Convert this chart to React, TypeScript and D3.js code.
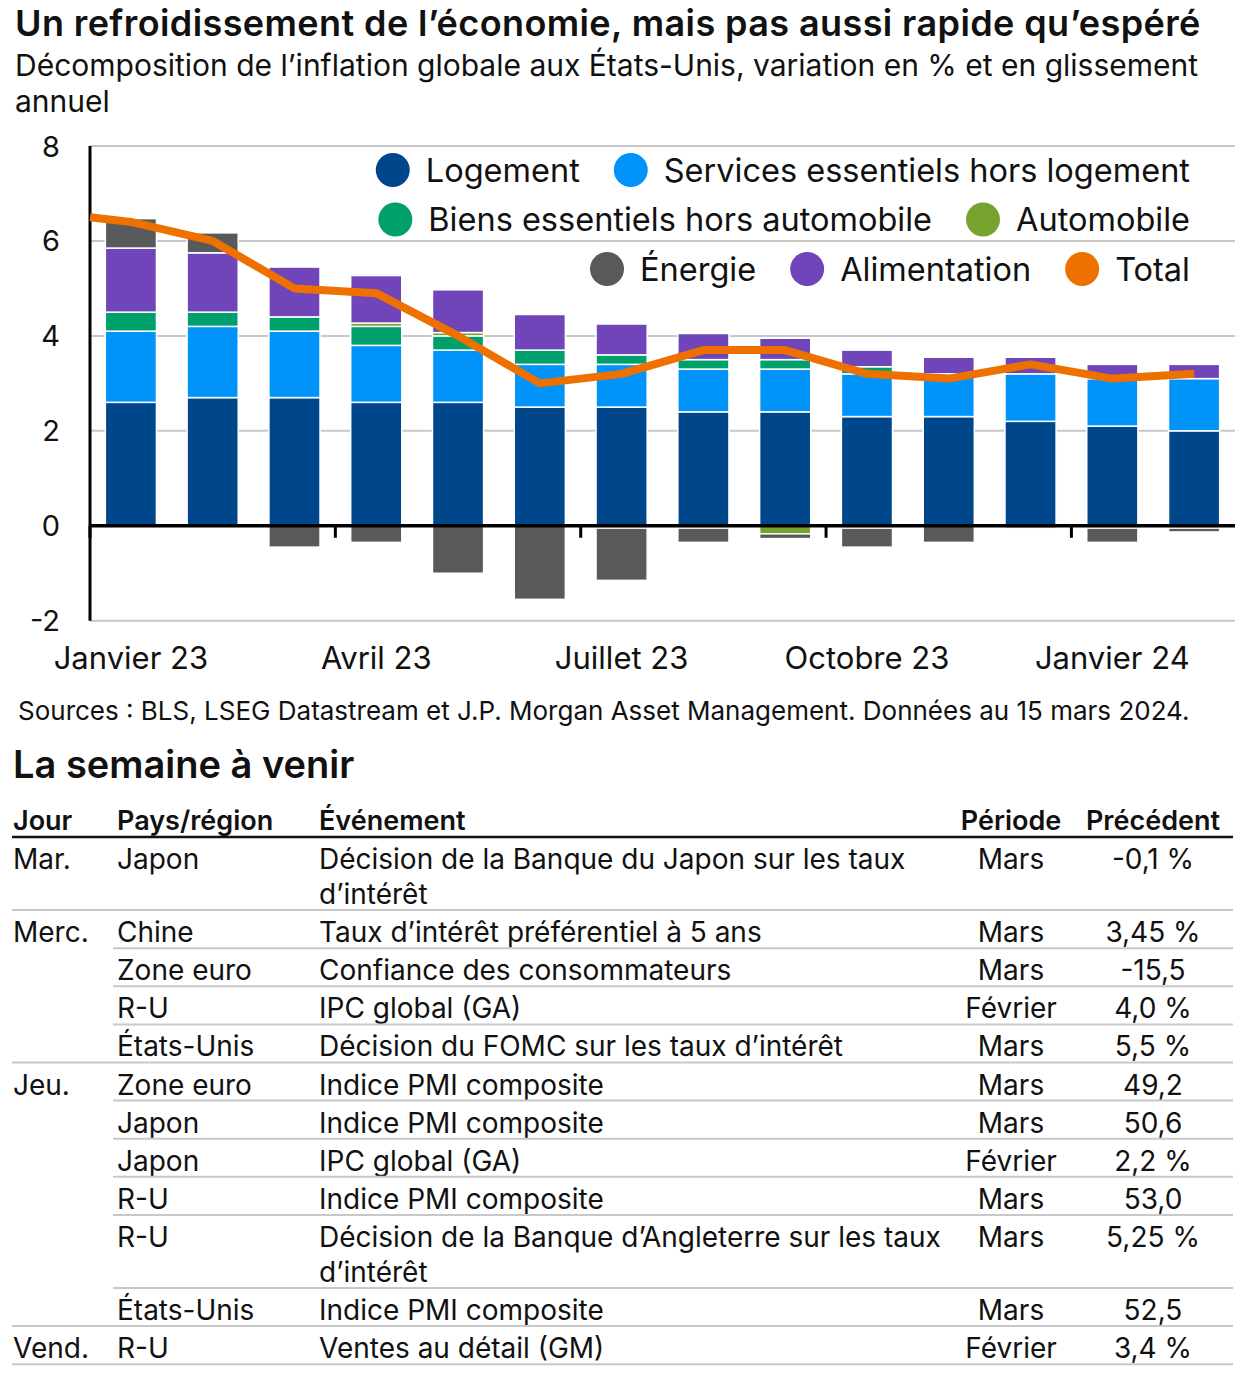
import { useMemo } from 'react';
import * as d3 from 'd3';

document.body.style.margin = '0';

const FONT = 'Inter, Roboto, "Liberation Sans", Arial, sans-serif';
const WIDTH = 1243;
const HEIGHT = 1395;

// Données du graphique (lecture du visuel)
const months = [
  'Jan 23', 'Fév 23', 'Mar 23', 'Avr 23', 'Mai 23', 'Juin 23', 'Juil 23',
  'Août 23', 'Sep 23', 'Oct 23', 'Nov 23', 'Déc 23', 'Jan 24', 'Fév 24',
];
const axisLabels = ['Janvier 23', 'Avril 23', 'Juillet 23', 'Octobre 23', 'Janvier 24'];
const axisLabelMonths = ['Jan 23', 'Avr 23', 'Juil 23', 'Oct 23', 'Jan 24'];
const yTicks = [-2, 0, 2, 4, 6, 8];

const logement = [2.6, 2.7, 2.7, 2.6, 2.6, 2.5, 2.5, 2.4, 2.4, 2.3, 2.3, 2.2, 2.1, 2.0];
const services = [1.5, 1.5, 1.4, 1.2, 1.1, 0.9, 0.9, 0.9, 0.9, 0.9, 0.9, 1.0, 1.0, 1.1];
const biens = [0.4, 0.3, 0.3, 0.4, 0.3, 0.3, 0.2, 0.2, 0.2, 0.15, 0, 0, 0, -0.05];
const automobile = [-0.03, -0.03, 0, 0.07, 0.07, 0, -0.05, -0.05, -0.17, -0.05, 0, 0, -0.05, 0];
const alimentation = [1.35, 1.25, 1.05, 1.0, 0.9, 0.75, 0.65, 0.55, 0.45, 0.35, 0.35, 0.35, 0.3, 0.3];
const energie = [0.62, 0.42, -0.45, -0.35, -1.0, -1.55, -1.1, -0.3, -0.1, -0.4, -0.35, -0.05, -0.3, -0.08];
const total = [6.4, 6.0, 5.0, 4.9, 4.0, 3.0, 3.2, 3.7, 3.7, 3.2, 3.1, 3.4, 3.1, 3.2];
const totalDec22 = 6.5;

const series = [
  { key: 'logement', label: 'Logement', color: '#00468b', values: logement },
  { key: 'services', label: 'Services essentiels hors logement', color: '#0094fb', values: services },
  { key: 'biens', label: 'Biens essentiels hors automobile', color: '#00a06c', values: biens },
  { key: 'auto', label: 'Automobile', color: '#78a22f', values: automobile },
  { key: 'alim', label: 'Alimentation', color: '#6f45b9', values: alimentation },
  { key: 'energie', label: 'Énergie', color: '#58595b', values: energie },
];
const TOTAL_COLOR = '#ee7100';

const legendRows = [
  ['logement', 'services'],
  ['biens', 'auto'],
  ['energie', 'alim', 'total'],
];

// Tableau « La semaine à venir »
const tableHeaders = ['Jour', 'Pays/région', 'Événement', 'Période', 'Précédent'];
const tableDays = ['Mar.', 'Merc.', '', '', '', 'Jeu.', '', '', '', '', '', 'Vend.'];
const tableCountries = [
  'Japon', 'Chine', 'Zone euro', 'R-U', 'États-Unis', 'Zone euro',
  'Japon', 'Japon', 'R-U', 'R-U', 'États-Unis', 'R-U',
];
const tableEvents = [
  ['Décision de la Banque du Japon sur les taux', 'd’intérêt'],
  ['Taux d’intérêt préférentiel à 5 ans'],
  ['Confiance des consommateurs'],
  ['IPC global (GA)'],
  ['Décision du FOMC sur les taux d’intérêt'],
  ['Indice PMI composite'],
  ['Indice PMI composite'],
  ['IPC global (GA)'],
  ['Indice PMI composite'],
  ['Décision de la Banque d’Angleterre sur les taux', 'd’intérêt'],
  ['Indice PMI composite'],
  ['Ventes au détail (GM)'],
];
const tablePeriods = ['Mars', 'Mars', 'Mars', 'Février', 'Mars', 'Mars', 'Mars', 'Février', 'Mars', 'Mars', 'Mars', 'Février'];
const tablePrevious = ['-0,1 %', '3,45 %', '-15,5', '4,0 %', '5,5 %', '49,2', '50,6', '2,2 %', '53,0', '5,25 %', '52,5', '3,4 %'];

const CHART = { left: 90, right: 1235, top: 146, bottom: 620.7 };

let measureCtx: CanvasRenderingContext2D | null = null;
const textWidth = (text: string, size: number, weight = 'normal') => {
  if (!measureCtx) measureCtx = document.createElement('canvas').getContext('2d');
  if (!measureCtx) return text.length * size * 0.5;
  measureCtx.font = `${weight} ${size}px ${FONT}`;
  return measureCtx.measureText(text).width;
};

const Chart = () => {
  const xScale = useMemo(
    () => d3.scaleBand<string>().domain(months).range([CHART.left, CHART.right]).paddingInner(0.375).paddingOuter(0.1875),
    []
  );
  const yScale = useMemo(() => d3.scaleLinear().domain([-2, 8]).range([CHART.bottom, CHART.top]), []);

  const stacked = useMemo(() => {
    const rows = months.map((m, i) => {
      const row: Record<string, number | string> = { month: m };
      series.forEach(s => (row[s.key] = s.values[i]));
      return row;
    });
    return d3
      .stack<Record<string, number | string>>()
      .keys(series.map(s => s.key))
      .value((d, k) => d[k] as number)
      .offset(d3.stackOffsetDiverging)(rows);
  }, []);

  const totalPath = useMemo(() => {
    const pts: [number, number][] = [[CHART.left, yScale(totalDec22)]];
    months.forEach((m, i) => pts.push([xScale(m)! + xScale.bandwidth() / 2, yScale(total[i])]));
    return d3.line()(pts);
  }, [xScale, yScale]);

  const step = xScale.step();
  const tickXs = axisLabelMonths.map(m => xScale(m)! - (step * xScale.paddingInner()) / 2);

  // Légende alignée à droite, ligne par ligne
  const LEG_SIZE = 32.5;
  const legendItems = legendRows.flatMap((row, r) => {
    let cursor = 1190;
    const out: { label: string; color: string; cx: number; tx: number; cy: number }[] = [];
    [...row].reverse().forEach(key => {
      const s = series.find(d => d.key === key);
      const label = s ? s.label : 'Total';
      const color = s ? s.color : TOTAL_COLOR;
      const w = textWidth(label, LEG_SIZE);
      const tx = cursor - w;
      const cx = tx - 33;
      out.push({ label, color, cx, tx, cy: 170 + r * 49.5 });
      cursor = cx - 17 - 34;
    });
    return out;
  });

  return (
    <g>
      {/* Grille */}
      {yTicks.filter(t => t !== 0).map(t => (
        <line key={t} x1={CHART.left} x2={CHART.right} y1={yScale(t)} y2={yScale(t)} stroke="#c8c8c8" strokeWidth={2} />
      ))}
      {yTicks.map(t => (
        <text key={t} x={60} y={yScale(t)} textAnchor="end" dominantBaseline="central" fontSize={29} fill="#111">
          {t}
        </text>
      ))}

      {/* Légende */}
      {legendItems.map(d => (
        <g key={d.label}>
          <circle cx={d.cx} cy={d.cy} r={17} fill={d.color} />
          <text x={d.tx} y={d.cy} dominantBaseline="central" fontSize={LEG_SIZE} fill="#111">
            {d.label}
          </text>
        </g>
      ))}

      {/* Barres empilées */}
      {stacked.map((layer, li) => (
        <g key={layer.key} fill={series[li].color}>
          {layer.map((d, i) => {
            const y0 = yScale(d[0]);
            const y1 = yScale(d[1]);
            if (Math.abs(y0 - y1) < 0.01) return null;
            return (
              <rect
                key={i}
                x={xScale(months[i])}
                y={Math.min(y0, y1)}
                width={xScale.bandwidth()}
                height={Math.abs(y0 - y1)}
                stroke="#fff"
                strokeWidth={1.5}
              />
            );
          })}
        </g>
      ))}

      {/* Axes */}
      <line x1={CHART.left} x2={CHART.right} y1={yScale(0)} y2={yScale(0)} stroke="#000" strokeWidth={3.5} />
      {tickXs.map(tx => (
        <line key={tx} x1={tx} x2={tx} y1={yScale(0)} y2={yScale(0) + 12} stroke="#000" strokeWidth={3} />
      ))}
      <line x1={CHART.left} x2={CHART.left} y1={CHART.top} y2={CHART.bottom} stroke="#000" strokeWidth={3} />

      {/* Total */}
      <path d={totalPath ?? ''} fill="none" stroke={TOTAL_COLOR} strokeWidth={8} strokeLinejoin="round" />

      {axisLabelMonths.map((m, i) => (
        <text key={m} x={xScale(m)! + xScale.bandwidth() / 2} y={669} textAnchor="middle" fontSize={31} fill="#111">
          {axisLabels[i]}
        </text>
      ))}
    </g>
  );
};

const Table = () => {
  const top = 837;
  const single = 38.1;
  const extra = 35;
  const colX = [13, 117, 319];
  const periodX = 1011;
  const prevX = 1153;
  let cursor = top;
  const rows = tableCountries.map((c, i) => {
    const h = single + (tableEvents[i].length - 1) * extra;
    const r = { i, y: cursor, h };
    cursor += h;
    return r;
  });

  return (
    <g fontSize={28} fill="#111">
      <g fontWeight={600} fontSize={27}>
        <text x={colX[0]} y={830}>{tableHeaders[0]}</text>
        <text x={colX[1]} y={830}>{tableHeaders[1]}</text>
        <text x={colX[2]} y={830}>{tableHeaders[2]}</text>
        <text x={periodX} y={830} textAnchor="middle">{tableHeaders[3]}</text>
        <text x={prevX} y={830} textAnchor="middle">{tableHeaders[4]}</text>
      </g>
      <line x1={12} x2={1233} y1={top} y2={top} stroke="#111" strokeWidth={2.5} />
      {rows.map(({ i, y, h }) => {
        const base = y + 32;
        const groupEnd = i === rows.length - 1 || tableDays[i + 1] !== '';
        return (
          <g key={i}>
            {tableDays[i] && <text x={colX[0]} y={base}>{tableDays[i]}</text>}
            <text x={colX[1]} y={base}>{tableCountries[i]}</text>
            {tableEvents[i].map((line, k) => (
              <text key={k} x={colX[2]} y={base + k * extra}>{line}</text>
            ))}
            <text x={periodX} y={base} textAnchor="middle">{tablePeriods[i]}</text>
            <text x={prevX} y={base} textAnchor="middle">{tablePrevious[i]}</text>
            <line x1={groupEnd ? 12 : 113} x2={1233} y1={y + h} y2={y + h} stroke="#c8c8c8" strokeWidth={2} />
          </g>
        );
      })}
    </g>
  );
};

export default function App() {
  return (
    <svg width={WIDTH} height={HEIGHT} style={{ display: 'block', background: '#fff' }} fontFamily={FONT}>
      <rect width={WIDTH} height={HEIGHT} fill="#fff" />
      <text x={15} y={36} fontSize={36} fontWeight={600} fill="#111" letterSpacing={0.4}>
        Un refroidissement de l’économie, mais pas aussi rapide qu’espéré
      </text>
      <text x={15} y={76} fontSize={30} fill="#111">
        Décomposition de l’inflation globale aux États-Unis, variation en % et en glissement
      </text>
      <text x={15} y={112} fontSize={30} fill="#111">annuel</text>
      <Chart />
      <text x={18} y={720} fontSize={26} fill="#111">
        Sources : BLS, LSEG Datastream et J.P. Morgan Asset Management. Données au 15 mars 2024.
      </text>
      <text x={13} y={778} fontSize={38} fontWeight={600} fill="#111">La semaine à venir</text>
      <Table />
    </svg>
  );
}
